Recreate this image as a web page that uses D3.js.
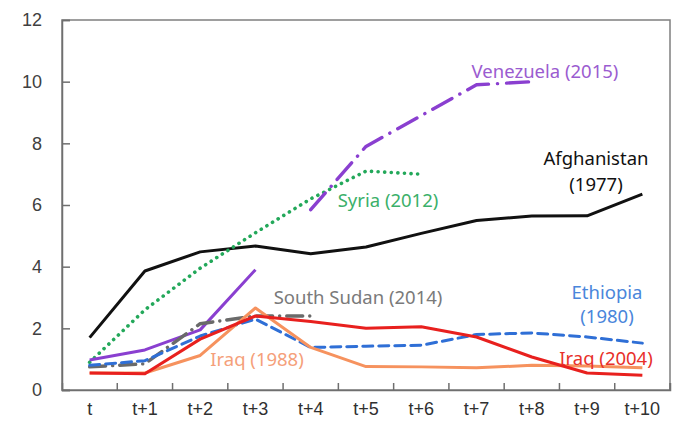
<!DOCTYPE html>
<html>
<head>
<meta charset="utf-8">
<script src="https://cdn.jsdelivr.net/npm/d3@7/dist/d3.min.js"></script>
<style>
  body { margin: 0; background: #fff; }
  svg { font-family: "Noto Sans", "Open Sans", sans-serif; }
</style>
</head>
<body>
<svg id="chart" width="678" height="428"></svg>
<script>
// periods after the crisis start
const periods = ["t", "t+1", "t+2", "t+3", "t+4", "t+5", "t+6", "t+7", "t+8", "t+9", "t+10"];
const yTicks = [0, 2, 4, 6, 8, 10, 12];

// values (null = no data)
const afghanistan = [1.7, 3.86, 4.48, 4.67, 4.42, 4.64, 5.08, 5.5, 5.64, 5.65, 6.35];
const syria       = [0.9, 2.6, 3.95, 5.1, 6.2, 7.1, 7.0, null, null, null, null];
const venezuela1  = [0.97, 1.3, 1.95, 3.9, null, null, null, null, null, null, null];
const venezuela2  = [null, null, null, null, 5.85, 7.9, 8.9, 9.9, 10.0, null, null];
const southSudan  = [0.75, 0.85, 2.15, 2.4, 2.4, null, null, null, null, null, null];
const ethiopia    = [0.8, 0.95, 1.75, 2.3, 1.38, 1.42, 1.45, 1.8, 1.85, 1.72, 1.52];
const iraq1988    = [0.55, 0.55, 1.12, 2.66, 1.38, 0.76, 0.75, 0.72, 0.8, 0.78, 0.72];
const iraq2004    = [0.55, 0.53, 1.65, 2.4, 2.22, 2.0, 2.05, 1.72, 1.07, 0.55, 0.48];

const series = [
  { name: "afghanistan", values: afghanistan, color: "#111111", dash: null, width: 3 },
  { name: "syria", values: syria, color: "#23a85a", dash: "0.1,6.5", width: 3.6 },
  { name: "venezuela1", values: venezuela1, color: "#8a3fd0", dash: null, width: 3 },
  { name: "venezuela2", values: venezuela2, color: "#8a3fd0", dash: "22,9,0.1,9", width: 3.4 },
  { name: "southSudan", values: southSudan, color: "#6a6a6a", dash: "16,7,0.1,7", width: 3.4 },
  { name: "ethiopia", values: ethiopia, color: "#2f6fd6", dash: "10,6", width: 3 },
  { name: "iraq1988", values: iraq1988, color: "#f6925e", dash: null, width: 3 },
  { name: "iraq2004", values: iraq2004, color: "#e8201e", dash: null, width: 3 }
];

const labels = [
  { lines: ["Venezuela (2015)"], x: 545, y: 70, color: "#9b5cd0", gap: 0 },
  { lines: ["Afghanistan", "(1977)"], x: 596, y: 157, color: "#111111", gap: 26 },
  { lines: ["Syria (2012)"], x: 388, y: 199, color: "#3bb06a", gap: 0 },
  { lines: ["South Sudan (2014)"], x: 358, y: 296, color: "#7a7a7a", gap: 0 },
  { lines: ["Ethiopia", "(1980)"], x: 607, y: 291, color: "#4a86db", gap: 24 },
  { lines: ["Iraq (1988)"], x: 257, y: 358, color: "#f5a07a", gap: 0 },
  { lines: ["Iraq (2004)"], x: 606, y: 357, color: "#e8302a", gap: 0 }
];

const margin = { top: 20, right: 8, bottom: 38, left: 62 };
const width = 678, height = 428;
const svg = d3.select("#chart");

const x = d3.scaleBand().domain(periods).range([margin.left, width - margin.right]).padding(0);
const y = d3.scaleLinear().domain([0, 12]).range([height - margin.bottom, margin.top]);

// plot frame
svg.append("rect")
  .attr("x", margin.left).attr("y", margin.top)
  .attr("width", width - margin.right - margin.left)
  .attr("height", height - margin.bottom - margin.top)
  .attr("fill", "none").attr("stroke", "#7f7f7f").attr("stroke-width", 1.5);

const yAxis = svg.append("g")
  .attr("transform", `translate(${margin.left},0)`)
  .call(d3.axisLeft(y).tickValues(yTicks).tickSize(-8).tickPadding(20));
yAxis.select(".domain").attr("stroke", "#6f6f6f").attr("stroke-width", 1.5);
yAxis.selectAll(".tick line").attr("stroke", "#6f6f6f").attr("stroke-width", 1.5);
yAxis.selectAll(".tick text").attr("font-size", 18).attr("fill", "#404040");

const xAxis = svg.append("g")
  .attr("transform", `translate(0,${height - margin.bottom})`)
  .call(d3.axisBottom(x).tickSize(-7).tickPadding(12));
xAxis.select(".domain").attr("stroke", "#6f6f6f").attr("stroke-width", 1.5);
// ticks sit between categories
xAxis.selectAll(".tick line")
  .attr("transform", `translate(${x.bandwidth() / 2},0)`)
  .attr("stroke", "#6f6f6f").attr("stroke-width", 1.5);
xAxis.selectAll(".tick text").attr("font-size", 18).attr("fill", "#303030");

const line = d3.line()
  .defined(d => d != null)
  .x((d, i) => x(periods[i]) + x.bandwidth() / 2)
  .y(d => y(d));

svg.append("g").selectAll("path")
  .data(series)
  .join("path")
  .attr("d", s => line(s.values))
  .attr("fill", "none")
  .attr("stroke", s => s.color)
  .attr("stroke-width", s => s.width)
  .attr("stroke-dasharray", s => s.dash)
  .attr("stroke-linecap", s => s.dash ? "round" : "butt")
  .attr("stroke-linejoin", "round");

const lbl = svg.append("g").selectAll("text")
  .data(labels)
  .join("text")
  .attr("x", d => d.x)
  .attr("y", d => d.y)
  .attr("text-anchor", "middle")
  .attr("dominant-baseline", "central")
  .attr("font-size", 18.5)
  .attr("fill", d => d.color);
lbl.selectAll("tspan")
  .data(d => d.lines.map(t => ({ t, x: d.x, gap: d.gap })))
  .join("tspan")
  .attr("x", d => d.x)
  .attr("dy", (d, i) => i === 0 ? 0 : d.gap)
  .text(d => d.t);
</script>
</body>
</html>
